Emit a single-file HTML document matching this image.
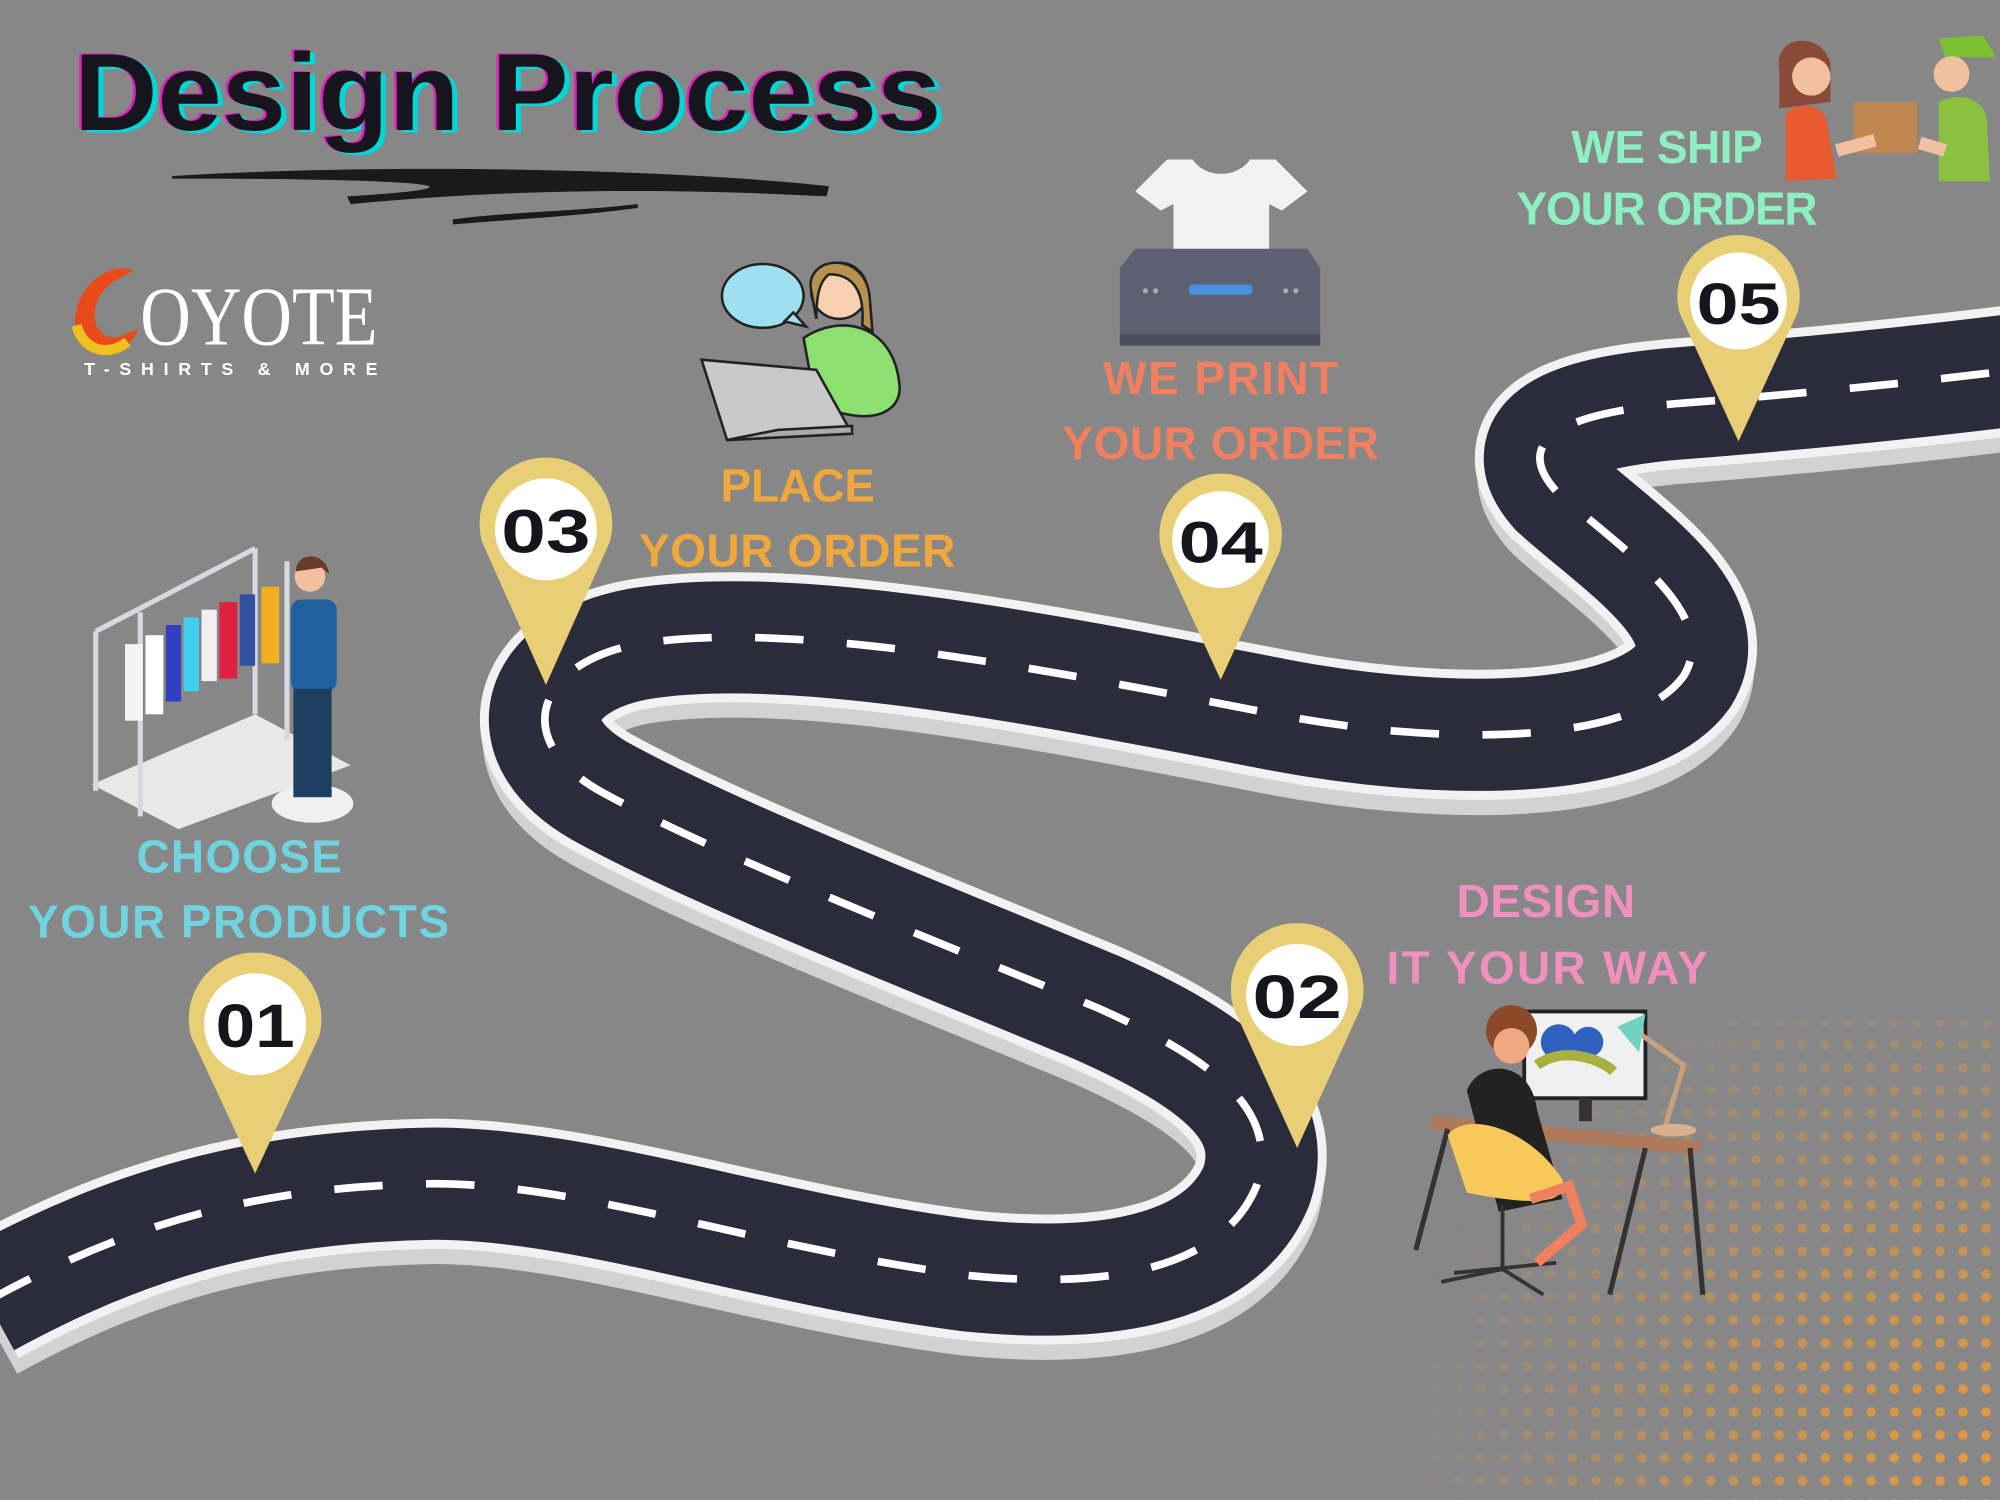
<!DOCTYPE html>
<html><head><meta charset="utf-8"><style>
html,body{margin:0;padding:0;background:#878787;}
svg{display:block}
text{font-family:"Liberation Sans",sans-serif;font-weight:bold}
</style></head><body>
<svg width="2000" height="1500" viewBox="0 0 1568 1176" xmlns="http://www.w3.org/2000/svg">
<defs>
<radialGradient id="dg" cx="1568" cy="1176" r="480" gradientUnits="userSpaceOnUse">
<stop offset="0" stop-color="#fff" stop-opacity="1"/><stop offset="0.5" stop-color="#fff" stop-opacity="0.6"/><stop offset="1" stop-color="#fff" stop-opacity="0"/></radialGradient>
<pattern id="dots" width="18" height="18" patternUnits="userSpaceOnUse"><circle cx="9" cy="9" r="3.8" fill="#e89a3c"/></pattern>
<mask id="dm"><rect x="0" y="0" width="1568" height="1176" fill="url(#dg)"/></mask>
</defs>
<rect width="1568" height="1176" fill="#878787"/>
<rect x="1000" y="800" width="568" height="376" fill="url(#dots)" mask="url(#dm)"/>

<g fill="none" stroke-linecap="butt" stroke-linejoin="round">
<path id="road" d="M-10,1020 C100,960 200,930 340,928 C460,928 600,980 760,1000 C880,1012 960,990 985,930 C1005,870 950,830 860,790 C740,740 560,670 470,620 C400,580 420,520 500,505 C620,485 820,525 1000,560 C1130,585 1280,585 1320,530 C1350,480 1270,430 1220,385 C1180,340 1240,322 1320,316 C1420,308 1500,300 1580,290" stroke="#d2d2d2" stroke-width="98" transform="translate(0,14)"/>
<path d="M-10,1020 C100,960 200,930 340,928 C460,928 600,980 760,1000 C880,1012 960,990 985,930 C1005,870 950,830 860,790 C740,740 560,670 470,620 C400,580 420,520 500,505 C620,485 820,525 1000,560 C1130,585 1280,585 1320,530 C1350,480 1270,430 1220,385 C1180,340 1240,322 1320,316 C1420,308 1500,300 1580,290" stroke="#f2f2f2" stroke-width="102"/>
<path d="M-10,1020 C100,960 200,930 340,928 C460,928 600,980 760,1000 C880,1012 960,990 985,930 C1005,870 950,830 860,790 C740,740 560,670 470,620 C400,580 420,520 500,505 C620,485 820,525 1000,560 C1130,585 1280,585 1320,530 C1350,480 1270,430 1220,385 C1180,340 1240,322 1320,316 C1420,308 1500,300 1580,290" stroke="#2c2b3b" stroke-width="88"/>
<path d="M-10,1020 C100,960 200,930 340,928 C460,928 600,980 760,1000 C880,1012 960,990 985,930 C1005,870 950,830 860,790 C740,740 560,670 470,620 C400,580 420,520 500,505 C620,485 820,525 1000,560 C1130,585 1280,585 1320,530 C1350,480 1270,430 1220,385 C1180,340 1240,322 1320,316 C1420,308 1500,300 1580,290" stroke="#fff" stroke-width="6" stroke-dasharray="38 34"/>
</g>

<text x="62" y="104" font-size="86" fill="#00d8d8" textLength="680" lengthAdjust="spacingAndGlyphs">Design Process</text>
<text x="56" y="101" font-size="86" fill="#e020c0" textLength="680" lengthAdjust="spacingAndGlyphs">Design Process</text>
<text x="58" y="102" font-size="86" fill="#16141c" textLength="680" lengthAdjust="spacingAndGlyphs">Design Process</text>
<path d="M135,138 C300,128 520,132 650,146 L648,154 C500,146 380,150 275,160 L272,154 C400,146 330,140 135,140Z" fill="#1a1a1a"/>
<path d="M355,172 C400,166 450,166 500,160 L500,163 C450,170 400,172 355,176Z" fill="#1a1a1a"/>

<path d="M95,210 C60,215 48,260 70,275 C85,285 105,270 108,258 L98,262 C85,270 70,258 75,240 C80,222 95,218 105,212Z" fill="#e84a1a"/>
<path d="M60,255 C65,275 85,280 100,268" stroke="#f0c020" stroke-width="8" fill="none"/>
<text x="110" y="270" font-size="66" fill="#fff" style="font-family:'Liberation Serif',serif;font-weight:normal" textLength="186" lengthAdjust="spacingAndGlyphs">OYOTE</text>
<text x="66" y="294" font-size="14" fill="#fff" textLength="230" lengthAdjust="spacing">T-SHIRTS &amp; MORE</text>

<g font-size="36" lengthAdjust="spacingAndGlyphs">
<text x="107" y="684" fill="#6fd3e0" textLength="161">CHOOSE</text>
<text x="22" y="735" fill="#6fd3e0" textLength="330">YOUR PRODUCTS</text>
<text x="565" y="393" fill="#f0a83c" textLength="121">PLACE</text>
<text x="501" y="444" fill="#f0a83c" textLength="248">YOUR ORDER</text>
<text x="865" y="309" fill="#f08060" textLength="184">WE PRINT</text>
<text x="833" y="360" fill="#f08060" textLength="248">YOUR ORDER</text>
<text x="1232" y="128" fill="#8ef0c0" textLength="150">WE SHIP</text>
<text x="1189" y="176" fill="#8ef0c0" textLength="236">YOUR ORDER</text>
<text x="1142" y="719" fill="#f090c0" textLength="140">DESIGN</text>
<text x="1087" y="771" fill="#f090c0" textLength="252">IT YOUR WAY</text>
</g>

<g fill="#e8cf75">
<g transform="translate(200,803)"><path d="M-50,10 A52,52 0 1 1 50,10 L0,117 Z"/><circle r="40" fill="#fff"/><text x="-31" y="18" font-size="48" fill="#16141c" textLength="62" lengthAdjust="spacingAndGlyphs">01</text></g>
<g transform="translate(1017,780)"><path d="M-50,10 A52,52 0 1 1 50,10 L0,120 Z"/><circle r="40" fill="#fff"/><text x="-35" y="18" font-size="48" fill="#16141c" textLength="70" lengthAdjust="spacingAndGlyphs">02</text></g>
<g transform="translate(428,415)"><path d="M-50,10 A52,52 0 1 1 50,10 L0,122 Z"/><circle r="40" fill="#fff"/><text x="-35" y="18" font-size="48" fill="#16141c" textLength="70" lengthAdjust="spacingAndGlyphs">03</text></g>
<g transform="translate(957,423)"><path d="M-46,10 A48,48 0 1 1 46,10 L0,110 Z"/><circle r="38" fill="#fff"/><text x="-33" y="18" font-size="46" fill="#16141c" textLength="66" lengthAdjust="spacingAndGlyphs">04</text></g>
<g transform="translate(1363,236)"><path d="M-46,10 A48,48 0 1 1 46,10 L0,110 Z"/><circle r="38" fill="#fff"/><text x="-33" y="18" font-size="46" fill="#16141c" textLength="66" lengthAdjust="spacingAndGlyphs">05</text></g>
</g>

<path d="M72,615 L200,560 L275,600 L140,650Z" fill="#e8e8e8"/>
<path d="M75,495 L75,620 M110,480 L110,640 M75,495 L200,430 M200,430 L200,560 M225,440 L225,580" stroke="#d8d8e0" stroke-width="4" fill="none"/>
<g>
<rect x="98" y="505" width="14" height="60" fill="#f4f4f4"/><rect x="114" y="498" width="14" height="62" fill="#fff"/>
<rect x="130" y="490" width="12" height="60" fill="#3040c0"/><rect x="144" y="484" width="12" height="58" fill="#40d0f0"/>
<rect x="158" y="478" width="12" height="56" fill="#f0f0f0"/><rect x="172" y="472" width="14" height="60" fill="#e02040"/>
<rect x="188" y="466" width="12" height="56" fill="#3050a0"/><rect x="205" y="460" width="14" height="60" fill="#f0b020"/>
</g>
<ellipse cx="245" cy="630" rx="32" ry="15" fill="#f0f0f0"/>
<circle cx="243" cy="452" r="12" fill="#f2c0a0"/><path d="M232,448 C232,432 256,432 258,450 L252,445Z" fill="#6a3a2a"/>
<rect x="228" y="470" width="36" height="72" rx="8" fill="#2060a0"/>
<rect x="230" y="540" width="30" height="85" fill="#1e4060"/>

<ellipse cx="598" cy="232" rx="32" ry="25" fill="#9fe0f0" stroke="#222" stroke-width="2"/>
<path d="M622,245 L632,256 L615,252Z" fill="#9fe0f0" stroke="#222" stroke-width="2"/>
<path d="M630,265 C660,245 700,255 705,300 C708,320 690,330 665,325 L640,320Z" fill="#8be070" stroke="#222" stroke-width="2"/>
<circle cx="658" cy="228" r="22" fill="#f6d0b0" stroke="#222" stroke-width="2"/>
<path d="M636,228 C630,200 680,195 682,235 L684,260 L676,255 C678,230 670,215 650,215 C643,220 640,230 640,250Z" fill="#b89050" stroke="#222" stroke-width="2"/>
<path d="M550,282 L640,290 L668,340 L570,345Z" fill="#c8c8c8" stroke="#222" stroke-width="2"/>
<path d="M570,345 L668,340 L668,334 L610,337Z" fill="#aaa" stroke="#222" stroke-width="2"/>

<path d="M915,125 L935,125 C945,140 970,140 980,125 L1000,125 L1025,150 L1005,165 L995,160 L995,210 L920,210 L920,160 L910,165 L890,150Z" fill="#f2f2f2"/>
<path d="M890,195 L1025,195 L1035,210 L1035,270 L878,270 L878,210Z" fill="#5b6170"/>
<rect x="878" y="262" width="157" height="9" fill="#4a4f5c"/>
<rect x="932" y="223" width="50" height="8" rx="3" fill="#4a90e0"/>
<circle cx="898" cy="228" r="2" fill="#aab"/><circle cx="906" cy="228" r="2" fill="#aab"/>
<circle cx="1008" cy="228" r="2" fill="#aab"/><circle cx="1016" cy="228" r="2" fill="#aab"/>

<path d="M1395,55 C1390,25 1430,25 1435,50 L1435,80 L1395,85Z" fill="#8a4a3a"/>
<circle cx="1420" cy="60" r="15" fill="#f0c0a0"/>
<path d="M1400,90 C1405,80 1430,80 1432,95 L1440,140 L1400,142Z" fill="#e85a30"/>
<rect x="1453" y="80" width="50" height="40" fill="#c08850"/>
<path d="M1520,30 L1555,28 L1565,45 L1525,45Z" fill="#7ac030"/>
<circle cx="1530" cy="58" r="14" fill="#f0c0a0"/>
<path d="M1520,80 C1540,70 1560,80 1558,100 L1560,142 L1520,142Z" fill="#8bc040"/>
<path d="M1440,118 L1470,110 M1505,112 L1525,118" stroke="#f0c0a0" stroke-width="10"/>

<rect x="1195" y="793" width="95" height="68" fill="#f0f0f0" stroke="#222" stroke-width="3"/>
<circle cx="1222" cy="817" r="14" fill="#3060c0"/><circle cx="1245" cy="817" r="12" fill="#3060c0"/>
<path d="M1205,835 C1225,820 1255,830 1265,840" stroke="#a8b040" stroke-width="8" fill="none"/>
<rect x="1238" y="861" width="10" height="18" fill="#333"/>
<path d="M1125,875 L1335,895 L1330,905 L1120,885Z" fill="#b07a5a"/>
<path d="M1135,885 L1110,980 M1325,900 L1335,1015 M1290,900 L1262,1015" stroke="#333" stroke-width="4"/>
<path d="M1285,810 L1320,835 L1305,885" stroke="#c8a080" stroke-width="4" fill="none"/>
<ellipse cx="1312" cy="886" rx="18" ry="5" fill="#d8b090"/>
<path d="M1268,805 L1290,795 L1285,825Z" fill="#6fd3c0"/>
<circle cx="1185" cy="808" r="20" fill="#8a4a2a"/>
<circle cx="1185" cy="820" r="14" fill="#f0a880"/>
<path d="M1150,855 C1160,830 1200,830 1205,870 L1225,940 L1175,950Z" fill="#222"/>
<path d="M1135,890 C1150,870 1200,885 1225,925 C1230,945 1200,945 1150,935Z" fill="#f7c85a"/>
<path d="M1178,945 L1178,995 M1140,998 L1220,990 M1178,995 L1130,1005 M1178,995 L1210,1015" stroke="#333" stroke-width="3"/>
<path d="M1200,940 L1230,930 L1240,960 L1205,990" stroke="#f08060" stroke-width="8" fill="none"/>
</svg>
</body></html>
